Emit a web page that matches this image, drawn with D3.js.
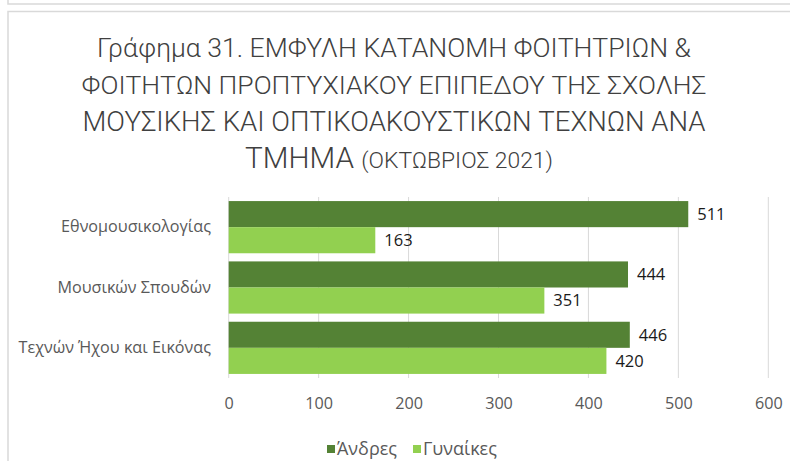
<!DOCTYPE html>
<html>
<head>
<meta charset="utf-8">
<script src="https://cdn.jsdelivr.net/npm/d3@7"></script>
<style>
  html, body { margin: 0; padding: 0; background: #fff; }
  svg { display: block; }
</style>
</head>
<body>
<svg id="chart" width="790" height="461"></svg>
<script>
// ---- data ----
const titleLines = [
  "Γράφημα 31. ΕΜΦΥΛΗ ΚΑΤΑΝΟΜΗ ΦΟΙΤΗΤΡΙΩΝ &",
  "ΦΟΙΤΗΤΩΝ ΠΡΟΠΤΥΧΙΑΚΟΥ ΕΠΙΠΕΔΟΥ ΤΗΣ ΣΧΟΛΗΣ",
  "ΜΟΥΣΙΚΗΣ ΚΑΙ ΟΠΤΙΚΟΑΚΟΥΣΤΙΚΩΝ ΤΕΧΝΩΝ ΑΝΑ"
];
const titleLastMain = "ΤΜΗΜΑ";
const titleLastSub = "(ΟΚΤΩΒΡΙΟΣ 2021)";
const categories = ["Εθνομουσικολογίας", "Μουσικών Σπουδών", "Τεχνών Ήχου και Εικόνας"];
const seriesNames = ["Άνδρες", "Γυναίκες"];
const men = [511, 444, 446];
const women = [163, 351, 420];
const xTicks = [0, 100, 200, 300, 400, 500, 600];
const colors = ["#548235", "#92D050"];

// ---- layout ----
const svg = d3.select("#chart");
const font = "'Open Sans', 'Noto Sans', sans-serif";
const titleFont = "Roboto, 'Open Sans', sans-serif";
const textGray = "#595959";

// chart frames
svg.append("rect").attr("x", 8).attr("y", -30).attr("width", 800).attr("height", 34)
  .attr("fill", "none").attr("stroke", "#d9d9d9").attr("stroke-width", 1.5);
svg.append("rect").attr("x", 8).attr("y", 11.5).attr("width", 800).attr("height", 480)
  .attr("fill", "#fff").attr("stroke", "#d9d9d9").attr("stroke-width", 1.5);

// helper: fit text to width
function fit(sel, w) {
  const node = sel.node();
  const fs = parseFloat(sel.attr("font-size"));
  const cur = node.getComputedTextLength();
  sel.attr("font-size", (fs * w / cur).toFixed(2));
}

// title
const titleG = svg.append("g").attr("fill", "#404040").attr("font-family", titleFont).attr("font-weight", 300);
const titleBase = [57, 94, 131];
const titleWidths = [594, 625, 623];
titleLines.forEach((t, i) => {
  const s = titleG.append("text").attr("x", 394).attr("y", titleBase[i])
    .attr("text-anchor", "middle").attr("font-size", 26).text(t);
  fit(s, titleWidths[i]);
});
const last = titleG.append("text").attr("x", 399).attr("y", 168).attr("text-anchor", "middle");
const t1 = last.append("tspan").attr("font-size", 26).text(titleLastMain + "  ");
const t2 = last.append("tspan").attr("font-size", 20).text(titleLastSub);
{
  const cur = last.node().getComputedTextLength();
  const k = 308 / cur;
  t1.attr("font-size", (26 * k).toFixed(2));
  t2.attr("font-size", (20 * k).toFixed(2));
}

// scales
const x = d3.scaleLinear().domain([0, 600]).range([228.7, 768.3]);
const y = d3.scaleBand().domain(categories).range([197, 378]).paddingInner(0.135).paddingOuter(0.0675);
const ys = d3.scaleBand().domain(seriesNames).range([0, y.bandwidth()]);

// gridlines
svg.append("g").selectAll("line").data(xTicks).join("line")
  .attr("x1", d => x(d)).attr("x2", d => x(d))
  .attr("y1", 197).attr("y2", 378)
  .attr("stroke", "#d9d9d9").attr("stroke-width", 1);

// x axis labels
const xAxis = d3.axisBottom(x).tickValues(xTicks).tickSize(0).tickPadding(0);
const xg = svg.append("g").attr("transform", "translate(0,398)").call(xAxis);
xg.select(".domain").remove();
xg.selectAll("text").attr("font-family", font).attr("font-size", 13).attr("fill", textGray).attr("dy", "0.71em");

// y axis labels
const yAxis = d3.axisLeft(y).tickSize(0).tickPadding(0);
const yg = svg.append("g").attr("transform", "translate(211,0)").call(yAxis);
yg.select(".domain").remove();
yg.selectAll("text").attr("font-family", font).attr("font-size", 13).attr("fill", textGray);
fit(yg.selectAll("text").filter((d, i) => i === 0), 150);
const catFs = yg.selectAll("text").filter((d, i) => i === 0).attr("font-size");
yg.selectAll("text").attr("font-size", catFs);
xg.selectAll("text").attr("font-size", catFs);

// bars
const rows = categories.map((c, i) => ({ cat: c, vals: [men[i], women[i]] }));
const groups = svg.append("g").selectAll("g").data(rows).join("g")
  .attr("transform", d => `translate(0,${y(d.cat)})`);
groups.selectAll("rect").data(d => d.vals.map((v, j) => ({ v, s: seriesNames[j], j }))).join("rect")
  .attr("x", x(0)).attr("y", d => ys(d.s))
  .attr("width", d => x(d.v) - x(0)).attr("height", ys.bandwidth())
  .attr("fill", d => colors[d.j]);
groups.selectAll("text").data(d => d.vals.map((v, j) => ({ v, s: seriesNames[j], j }))).join("text")
  .attr("x", d => x(d.v) + 9).attr("y", d => ys(d.s) + ys.bandwidth() / 2)
  .attr("dy", "0.35em")
  .attr("font-family", font).attr("font-size", 16.5).attr("fill", "#1a1a1a")
  .text(d => d.v);

// legend
const legend = svg.append("g").attr("transform", "translate(0,449)");
const legX = [327, 413];
const legTexts = [];
seriesNames.forEach((n, i) => {
  legend.append("rect").attr("x", legX[i]).attr("y", -4).attr("width", 8).attr("height", 8).attr("fill", colors[i]);
  legTexts.push(legend.append("text").attr("x", legX[i] + 10).attr("y", 0).attr("dy", "0.35em")
    .attr("font-family", font).attr("font-size", 15).attr("fill", textGray).text(n));
});
fit(legTexts[0], 60);
legTexts[1].attr("font-size", legTexts[0].attr("font-size"));
</script>
</body>
</html>
